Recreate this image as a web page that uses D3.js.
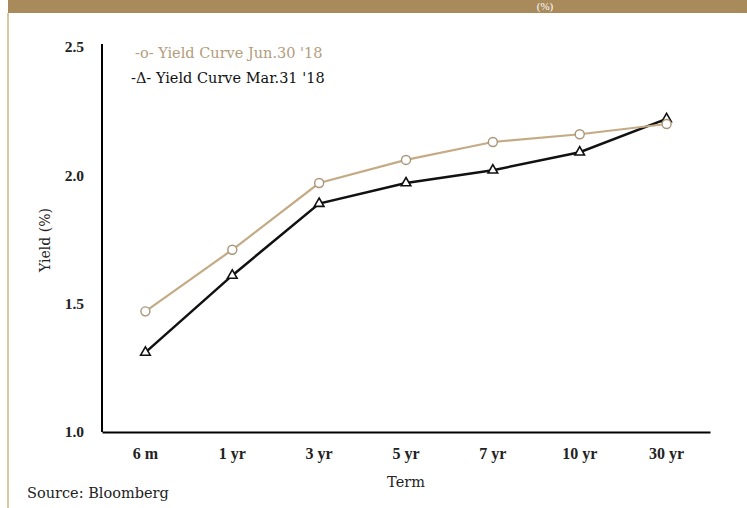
<!DOCTYPE html>
<html>
<head>
<meta charset="utf-8">
<script src="https://cdn.jsdelivr.net/npm/d3@7"></script>
<style>
  html, body { margin: 0; padding: 0; background: #fff; }
  svg { display: block; }
</style>
</head>
<body>
<script>
// Yield curve comparison data
const terms = ["6 m", "1 yr", "3 yr", "5 yr", "7 yr", "10 yr", "30 yr"];
const yieldJun = [1.47, 1.71, 1.97, 2.06, 2.13, 2.16, 2.20];
const yieldMar = [1.31, 1.61, 1.89, 1.97, 2.02, 2.09, 2.22];
const yTicks = [1.0, 1.5, 2.0, 2.5];

const W = 747, H = 508;
const svg = d3.select("body").append("svg").attr("width", W).attr("height", H);

const serif = "'Liberation Serif', 'DejaVu Serif', serif";
const wideSerif = "'DejaVu Serif', 'Liberation Serif', serif";
const tan = "#c4ab85";

// header band and frame edge
svg.append("rect").attr("x", 8).attr("y", 0).attr("width", W - 8).attr("height", 13).attr("fill", "#a98a5a");
svg.append("rect").attr("x", 7).attr("y", 13).attr("width", 2).attr("height", H - 13).attr("fill", "#d9c6a3");
svg.append("text").attr("x", 545).attr("y", 10).attr("text-anchor", "middle")
  .attr("font-family", serif).attr("font-size", 11).attr("fill", "#fff").text("(%)");

const x = d3.scaleBand().domain(terms).range([102, 710]);
const y = d3.scaleLinear().domain([1.0, 2.5]).range([432, 47]);

// axes
const gx = svg.append("g").attr("transform", "translate(0,432)")
  .call(d3.axisBottom(x).tickSize(0).tickPadding(16));
gx.select(".domain").attr("stroke", "#000").attr("stroke-width", 2);
gx.selectAll("text").attr("font-family", serif).attr("font-size", 16)
  .attr("font-weight", "bold").attr("fill", "#222");

const gy = svg.append("g").attr("transform", "translate(102,0)")
  .call(d3.axisLeft(y).tickValues(yTicks).tickFormat(d3.format(".1f")).tickSize(0).tickPadding(18));
gy.select(".domain").attr("stroke", "#000").attr("stroke-width", 2)
  .attr("d", `M0,${y(2.5) - 3}V${y(1.0)}`);
gy.selectAll("text").attr("font-family", serif).attr("font-size", 15.5)
  .attr("font-weight", "bold").attr("fill", "#222");

// axis titles
svg.append("text").attr("transform", "translate(50,240) rotate(-90)").attr("text-anchor", "middle")
  .attr("font-family", wideSerif).attr("font-size", 14).attr("fill", "#222").text("Yield (%)");
svg.append("text").attr("x", 406).attr("y", 487).attr("text-anchor", "middle")
  .attr("font-family", wideSerif).attr("font-size", 14.5).attr("fill", "#222").text("Term");
svg.append("text").attr("x", 27).attr("y", 498)
  .attr("font-family", wideSerif).attr("font-size", 14.5).attr("fill", "#222").text("Source: Bloomberg");

const cx = t => x(t) + x.bandwidth() / 2;
const line = d3.line().x((d, i) => cx(terms[i])).y(d => y(d));

// March curve (black, triangles)
svg.append("path").datum(yieldMar).attr("d", line).attr("fill", "none")
  .attr("stroke", "#111").attr("stroke-width", 2.5);
// June curve (tan, circles)
svg.append("path").datum(yieldJun).attr("d", line).attr("fill", "none")
  .attr("stroke", tan).attr("stroke-width", 2.2);

const tri = d3.symbol().type(d3.symbolTriangle).size(40);
svg.selectAll(".tri").data(yieldMar).enter().append("path")
  .attr("transform", (d, i) => `translate(${cx(terms[i])},${y(d)})`)
  .attr("d", tri).attr("fill", "#fff").attr("stroke", "#111").attr("stroke-width", 1.6);

svg.selectAll(".circ").data(yieldJun).enter().append("circle")
  .attr("cx", (d, i) => cx(terms[i])).attr("cy", d => y(d)).attr("r", 4.5)
  .attr("fill", "#fff").attr("stroke", "#a89478").attr("stroke-width", 1.4);

// legend
svg.append("text").attr("x", 135).attr("y", 58)
  .attr("font-family", wideSerif).attr("font-size", 14.5).attr("fill", "#b29c7c").text("-o- Yield Curve Jun.30 '18");
svg.append("text").attr("x", 131).attr("y", 83)
  .attr("font-family", wideSerif).attr("font-size", 14.5).attr("fill", "#111").text("-\u0394- Yield Curve Mar.31 '18");
</script>
</body>
</html>
